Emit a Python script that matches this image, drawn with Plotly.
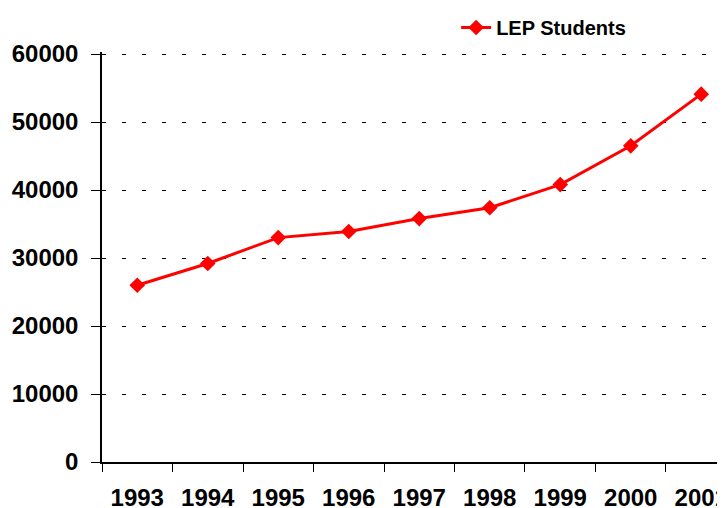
import plotly.graph_objects as go

years = ["1993", "1994", "1995", "1996", "1997", "1998", "1999", "2000", "2001"]
lep_students = [26000, 29200, 33000, 33900, 35800, 37400, 40800, 46500, 54100]
y_ticks = [0, 10000, 20000, 30000, 40000, 50000, 60000]
y_tick_labels = [str(v) for v in y_ticks]

fig = go.Figure()
fig.add_trace(go.Scatter(
    x=years, y=lep_students, mode="lines+markers", name="LEP Students",
    line=dict(color="#ff0000", width=3),
    marker=dict(symbol="diamond", size=12, color="#ff0000"),
))

font_family = "Liberation Sans, Arial, sans-serif"
fig.update_layout(
    width=717, height=500,
    margin=dict(l=94, r=0, t=44, b=46),
    paper_bgcolor="white", plot_bgcolor="white",
    showlegend=True,
    legend=dict(orientation="h", x=0.625, y=1.0, xref="container", yref="container",
                xanchor="left", yanchor="top",
                font=dict(family=font_family, size=20, color="black", weight="bold")),
    font=dict(family=font_family, color="black"),
)
fig.update_xaxes(
    type="category", range=[-0.5, 8.337], automargin=False,
    showline=True, linecolor="black", linewidth=1.5,
    ticks="outside", ticklen=8, tickcolor="black", tickson="boundaries",
    showgrid=False,
    tickfont=dict(family=font_family, size=24, color="black", weight="bold"),
    ticklabelstandoff=13,
)
fig.update_yaxes(
    range=[0, 60300], tickvals=y_ticks, ticktext=y_tick_labels, automargin=False,
    showline=True, linecolor="black", linewidth=1.5,
    ticks="outside", ticklen=9, tickcolor="black",
    showgrid=True, gridcolor="black", gridwidth=1, griddash="4px,16px",
    zeroline=False,
    tickfont=dict(family=font_family, size=24, color="black", weight="bold"),
    ticklabelstandoff=8,
)

fig.write_html("out.html")
